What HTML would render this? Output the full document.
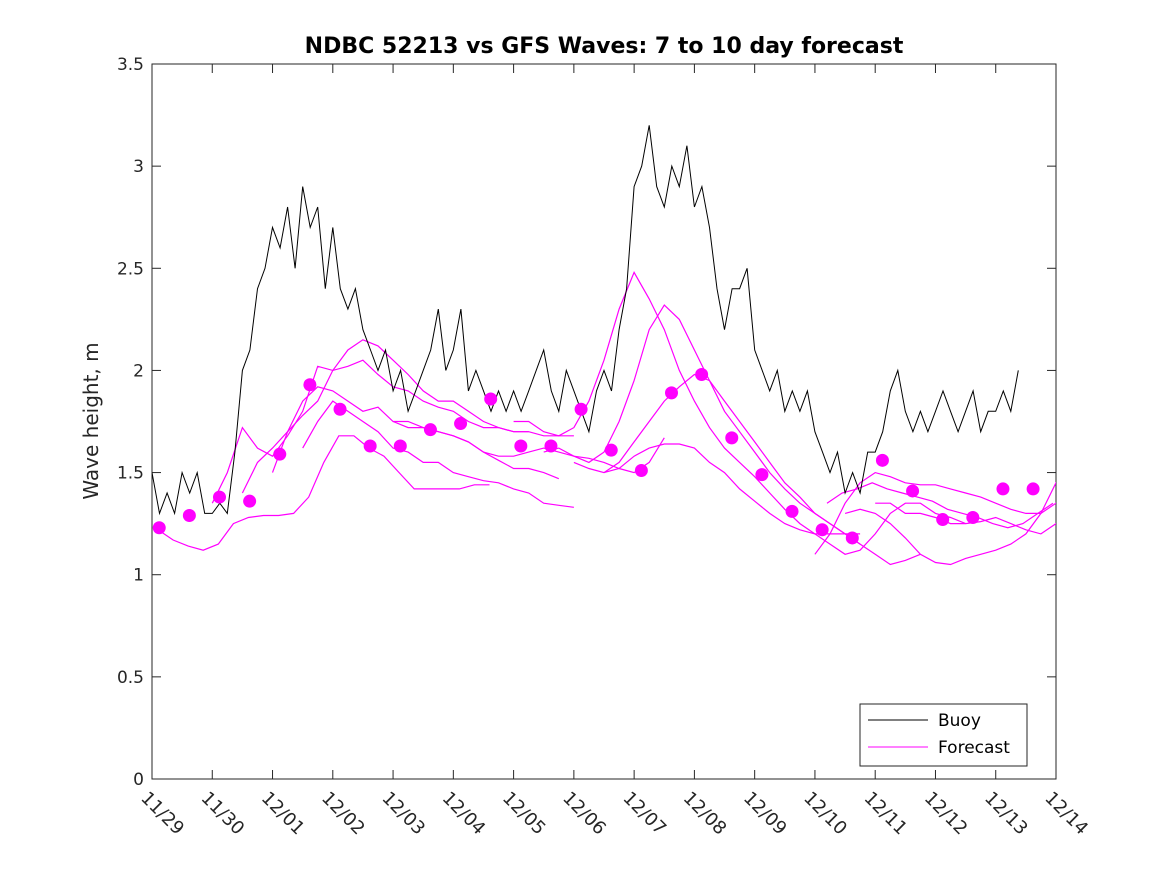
<!DOCTYPE html>
<html><head><meta charset="utf-8"><style>
body{margin:0;background:#fff;}
svg{font-family:"DejaVu Sans","Liberation Sans",sans-serif;}
</style></head><body>
<svg id="chart" width="1167" height="875" xmlns="http://www.w3.org/2000/svg">
<defs><clipPath id="pc"><rect x="152" y="64" width="904" height="715"/></clipPath></defs>
<rect width="1167" height="875" fill="#fff"/>
<rect x="152" y="64" width="904" height="715" fill="#fff" stroke="#262626" stroke-width="1"/>
<text x="604" y="53" text-anchor="middle" font-size="22" font-weight="bold" fill="#000">NDBC 52213 vs GFS Waves: 7 to 10 day forecast</text>
<text transform="translate(98,421) rotate(-90)" text-anchor="middle" font-size="20" fill="#262626">Wave height, m</text>
<g id="axes"></g>
<g id="series" clip-path="url(#pc)"></g>
<g>
<rect x="860" y="704" width="167" height="62" fill="#fff" stroke="#262626"/>
<line x1="868" y1="720" x2="928" y2="720" stroke="#000"/>
<text x="938" y="726" font-size="17" fill="#000">Buoy</text>
<line x1="868" y1="747" x2="928" y2="747" stroke="#ff00ff"/>
<text x="938" y="753" font-size="17" fill="#000">Forecast</text>
</g>
</svg>
<script>
const xTickLabels=["11/29","11/30","12/01","12/02","12/03","12/04","12/05","12/06","12/07","12/08","12/09","12/10","12/11","12/12","12/13","12/14"];
const yTicks=[0,0.5,1,1.5,2,2.5,3,3.5];
const yTickLabels=["0","0.5","1","1.5","2","2.5","3","3.5"];
const buoyStep=0.125;
const buoyValues=[1.5,1.3,1.4,1.3,1.5,1.4,1.5,1.3,
1.3,1.35,1.3,1.6,2.0,2.1,2.4,2.5,
2.7,2.6,2.8,2.5,2.9,2.7,2.8,2.4,
2.7,2.4,2.3,2.4,2.2,2.1,2.0,2.1,
1.9,2.0,1.8,1.9,2.0,2.1,2.3,2.0,
2.1,2.3,1.9,2.0,1.9,1.8,1.9,1.8,
1.9,1.8,1.9,2.0,2.1,1.9,1.8,2.0,
1.9,1.8,1.7,1.9,2.0,1.9,2.2,2.4,
2.9,3.0,3.2,2.9,2.8,3.0,2.9,3.1,
2.8,2.9,2.7,2.4,2.2,2.4,2.4,2.5,
2.1,2.0,1.9,2.0,1.8,1.9,1.8,1.9,
1.7,1.6,1.5,1.6,1.4,1.5,1.4,1.6,
1.6,1.7,1.9,2.0,1.8,1.7,1.8,1.7,
1.8,1.9,1.8,1.7,1.8,1.9,1.7,1.8,
1.8,1.9,1.8,2.0];
const forecastStarts=[0.1,1.0,1.5,2.0,2.5,4.0,6.0,6.5,7.0,7.5,11.0,11.5,12.0,11.2];
const forecastStep=0.25;
const forecastValues=[
[1.22,1.17,1.14,1.12,1.15,1.25,1.28,1.29,1.29,1.30,1.38,1.55,1.68,1.68,1.62,1.58,1.50,1.42,1.42,1.42,1.42,1.44,1.44],
[1.35,1.5,1.72,1.62,1.58,1.68,1.8,2.02,2.0,2.02,2.05,1.98,1.92,1.9,1.85,1.82,1.8,1.75,1.72,1.72,1.7,1.70,1.68,1.68,1.68],
[1.4,1.55,1.62,1.7,1.78,1.85,2.0,2.1,2.15,2.12,2.05,1.98,1.9,1.85,1.85,1.8,1.75,1.72,1.70,1.70],
[1.5,1.7,1.85,1.92,1.9,1.85,1.8,1.82,1.75,1.75,1.72,1.7,1.68,1.65,1.6,1.56,1.52,1.52,1.5,1.47],
[1.62,1.75,1.85,1.8,1.75,1.7,1.62,1.6,1.55,1.55,1.5,1.48,1.46,1.45,1.42,1.4,1.35,1.34,1.33],
[1.75,1.72,1.72,1.70,1.68,1.65,1.6,1.58,1.58,1.6,1.62,1.6,1.58,1.57,1.55,1.52,1.5,1.55,1.67],
[1.75,1.75,1.7,1.68,1.72,1.85,2.05,2.3,2.48,2.35,2.2,2.0,1.85,1.72,1.62,1.55,1.48,1.4,1.32,1.25,1.2,1.2,1.2,1.2],
[1.6,1.62,1.58,1.55,1.6,1.75,1.95,2.2,2.32,2.25,2.1,1.95,1.8,1.7,1.6,1.5,1.42,1.35,1.3,1.25,1.2,1.15],
[1.55,1.52,1.5,1.55,1.65,1.75,1.85,1.92,1.98,1.95,1.85,1.75,1.65,1.55,1.45,1.38,1.3,1.25,1.2,1.15,1.1,1.05,1.07,1.1],
[1.5,1.52,1.58,1.62,1.64,1.64,1.62,1.55,1.5,1.42,1.36,1.3,1.25,1.22,1.2,1.15,1.1,1.12,1.2,1.3,1.35,1.35,1.3,1.28,1.25],
[1.1,1.2,1.35,1.45,1.5,1.48,1.45,1.44,1.44,1.42,1.4,1.38,1.35,1.32,1.3,1.3,1.35,1.4,1.45],
[1.3,1.32,1.3,1.25,1.18,1.1,1.06,1.05,1.08,1.1,1.12,1.15,1.2,1.3,1.45,1.4,1.35,1.38],
[1.35,1.35,1.3,1.3,1.28,1.25,1.25,1.26,1.28,1.25,1.22,1.2,1.25,1.2,1.15,1.2],
[1.35,1.4,1.42,1.45,1.42,1.4,1.38,1.36,1.32,1.3,1.28,1.25,1.23,1.25,1.3,1.35]];
const dotStart=0.12, dotStep=0.5;
const dotValues=[1.23,1.29,1.38,1.36,1.59,1.93,1.81,1.63,1.63,1.71,1.74,1.86,1.63,1.63,1.81,1.61,1.51,1.89,1.98,1.67,1.49,1.31,1.22,1.18,1.56,1.41,1.27,1.28,1.42,1.42];

const NS="http://www.w3.org/2000/svg";
const X0=152,X1=1056,Y0=779,Y1=64;
const xs=d=>X0+(X1-X0)*d/15;
const ys=v=>Y0-(Y0-Y1)*v/3.5;
const axes=document.getElementById('axes'), series=document.getElementById('series');
function mk(tag,attrs,parent){const e=document.createElementNS(NS,tag);for(const k in attrs)e.setAttribute(k,attrs[k]);parent.appendChild(e);return e;}
xTickLabels.forEach((l,i)=>{
  const x=xs(i);
  mk('line',{x1:x,y1:Y0,x2:x,y2:Y0-9,stroke:'#262626'},axes);
  mk('line',{x1:x,y1:Y1,x2:x,y2:Y1+9,stroke:'#262626'},axes);
  const t=mk('text',{x:x-12,y:Y0+20,'font-size':18,fill:'#262626',transform:`rotate(45 ${x-12} ${Y0+20})`},axes);
  t.textContent=l;
  
  
});
yTicks.forEach((v,i)=>{
  const y=ys(v);
  mk('line',{x1:X0,y1:y,x2:X0+9,y2:y,stroke:'#262626'},axes);
  mk('line',{x1:X1,y1:y,x2:X1-9,y2:y,stroke:'#262626'},axes);
  const t=mk('text',{x:X0-8,y:y+6,'font-size':17,fill:'#262626','text-anchor':'end'},axes);
  t.textContent=yTickLabels[i];
  
  
});
forecastValues.forEach((arr,k)=>{
  const pts=arr.map((v,i)=>xs(forecastStarts[k]+i*forecastStep).toFixed(1)+','+ys(v).toFixed(1)).join(' ');
  const p=mk('polyline',{points:pts,fill:'none',stroke:'#ff00ff','stroke-width':1.2},series);
  
  
});
const bp=buoyValues.map((v,i)=>xs(i*buoyStep).toFixed(1)+','+ys(v).toFixed(1)).join(' ');
const b=mk('polyline',{points:bp,fill:'none',stroke:'#000','stroke-width':1},series);


dotValues.forEach((v,i)=>{
  const c=mk('circle',{cx:xs(dotStart+i*dotStep),cy:ys(v),r:6.5,fill:'#ff00ff'},series);
  
  
});
</script>
</body></html>
